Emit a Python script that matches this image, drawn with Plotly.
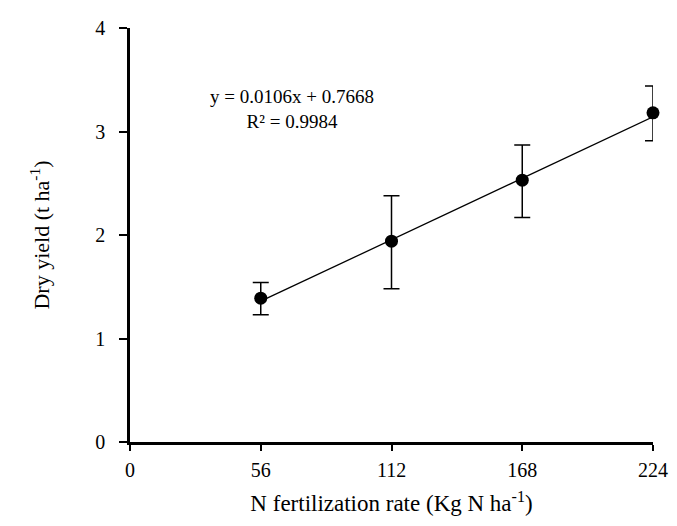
import plotly.graph_objects as go

n_rate = [56, 112, 168, 224]
dry_yield = [1.39, 1.94, 2.53, 3.18]
err_plus = [0.15, 0.44, 0.34, 0.26]
err_minus = [0.16, 0.46, 0.36, 0.27]
slope = 0.0106
intercept = 0.7668
r2 = 0.9984
x_ticks = [0, 56, 112, 168, 224]
y_ticks = [0, 1, 2, 3, 4]

trend_x = [min(n_rate), max(n_rate)]
trend_y = [slope * v + intercept for v in trend_x]

FONT = "Liberation Serif, Times New Roman, serif"

fig = go.Figure()
fig.add_trace(go.Scatter(
    x=trend_x, y=trend_y, mode="lines",
    line=dict(color="black", width=1.3), showlegend=False, hoverinfo="skip",
    cliponaxis=False,
))
fig.add_trace(go.Scatter(
    x=n_rate, y=dry_yield, mode="markers",
    marker=dict(color="black", size=13, symbol="circle"),
    error_y=dict(type="data", symmetric=False, array=err_plus, arrayminus=err_minus,
                 color="black", thickness=1.5, width=8),
    showlegend=False, cliponaxis=False,
))

fig.add_annotation(
    x=0.31, y=0.805, xref="paper", yref="paper", xanchor="center", yanchor="middle",
    text=f"y = {slope}x + {intercept}<br>R² = {r2}",
    showarrow=False, align="center",
    font=dict(family=FONT, size=19, color="black"),
)

fig.update_layout(
    width=669, height=518,
    margin=dict(l=122, r=20, t=9, b=84),
    paper_bgcolor="white", plot_bgcolor="white",
    font=dict(family=FONT, size=20, color="black"),
    xaxis=dict(
        range=[0, 224], tickvals=x_ticks, ticks="outside", ticklen=6, tickwidth=1.5,
        tickcolor="black", showline=True, linecolor="black", linewidth=2.5,
        showgrid=False, zeroline=False, ticklabelstandoff=2, ticklabeloverflow="allow",
        title=dict(text="N fertilization rate (Kg N ha<sup>-1</sup>)", standoff=16,
                   font=dict(size=23)),
    ),
    yaxis=dict(
        range=[0, 4], tickvals=y_ticks, ticks="outside", ticklen=8, tickwidth=1.5,
        tickcolor="black", showline=True, linecolor="black", linewidth=2.5,
        showgrid=False, zeroline=False, ticklabelstandoff=10, ticklabeloverflow="allow",
        title=dict(text="Dry yield (t ha<sup>-1</sup>)", standoff=40,
                   font=dict(size=22)),
    ),
)

fig.write_html("out.html")
